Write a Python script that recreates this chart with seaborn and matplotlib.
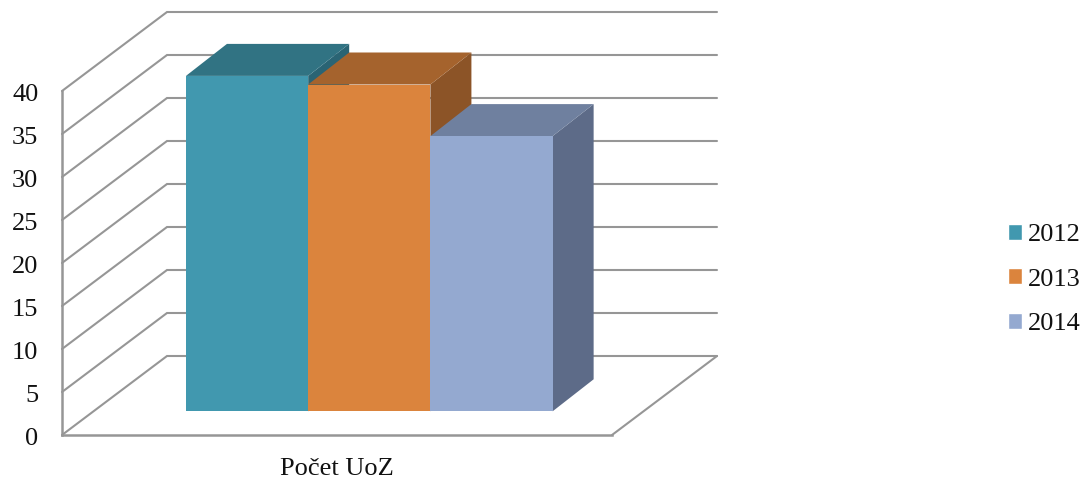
import matplotlib
matplotlib.use("Agg")
import matplotlib.pyplot as plt
from matplotlib.patches import Polygon
from matplotlib.transforms import ScaledTranslation
import pandas as pd
import seaborn as sns

categories = ["Počet UoZ"]
years = ["2012", "2013", "2014"]
values = [39, 38, 32]
y_ticks = [0, 5, 10, 15, 20, 25, 30, 35, 40]
front_colors = ["#4198AF", "#DB843D", "#94A9D0"]
top_colors = ["#317383", "#A5632D", "#6F809F"]
side_colors = ["#2A6474", "#8C5427", "#5D6B88"]

sns.set_style("white")
plt.rcParams["font.family"] = ["Liberation Serif", "DejaVu Serif"]

W, H = 1090, 482
GRID = "#969696"
fig = plt.figure(figsize=(W / 100, H / 100), dpi=100, facecolor="white")


def box(left, right, bottom, top):
    return [left / W, 1 - bottom / H, (right - left) / W, (bottom - top) / H]


# Front plane of the chart: holds the value axis and the category label
ax = fig.add_axes(box(62, 612, 435, 91))
ax.set_xlim(-0.5, 0.5)
ax.set_ylim(0, 40)
ax.set_yticks(y_ticks)
ax.set_xticks([0])
ax.set_xticklabels(categories)
ax.tick_params(axis="y", labelsize=19, length=0, pad=17, labelcolor="#111111")
ax.tick_params(axis="x", labelsize=19, length=0, pad=16.5, labelcolor="#111111")
nudge = ScaledTranslation(0, -1.2 / 100, fig.dpi_scale_trans)
for label in ax.get_yticklabels():
    label.set_transform(label.get_transform() + nudge)
for name in ("top", "right"):
    ax.spines[name].set_visible(False)
for name in ("left", "bottom"):
    ax.spines[name].set_color(GRID)
    ax.spines[name].set_linewidth(1.8)

# Walls and floor, expressed as depth offsets in data units
wall_dx = 105 / 550
wall_dy = 79 / 8.6
for v in y_ticks:
    ax.plot([-0.5, -0.5 + wall_dx, 0.5 + wall_dx], [v, v + wall_dy, v + wall_dy],
            color=GRID, lw=1.5, clip_on=False, zorder=1, solid_joinstyle="miter")
ax.plot([0.5, 0.5 + wall_dx], [0, wall_dy], color=GRID, lw=1.5, clip_on=False, zorder=1)

# Bars, on a transparent overlay set back from the front plane
bar_ax = fig.add_axes(box(94.3, 644.3, 411.3, 67.3))
bar_ax.patch.set_alpha(0)
data = pd.DataFrame({"category": categories * 3, "year": years, "value": values})
sns.barplot(data=data, x="category", y="value", hue="year", palette=front_colors,
            width=2 / 3, gap=0, saturation=1, errorbar=None, ax=bar_ax, legend=True)
bar_ax.set_xlim(-0.5, 0.5)
bar_ax.set_ylim(0, 40)
bar_ax.axis("off")

depth_x = 41 / 550
depth_y = 32 / 8.6
fronts = [p for p in bar_ax.patches if p.get_height() > 0]
for i, bar in enumerate(fronts):
    x0, x1 = bar.get_x(), bar.get_x() + bar.get_width()
    h = bar.get_height()
    bar.set_zorder(3 + 2 * i)
    bar.set_linewidth(0)
    bar_ax.add_patch(Polygon([(x1, 0), (x1 + depth_x, depth_y), (x1 + depth_x, h + depth_y), (x1, h)],
                             facecolor=side_colors[i], edgecolor="none", zorder=2 + 2 * i, clip_on=False))
    bar_ax.add_patch(Polygon([(x0, h), (x0 + depth_x, h + depth_y), (x1 + depth_x, h + depth_y), (x1, h)],
                             facecolor=top_colors[i], edgecolor="none", zorder=2 + 2 * i, clip_on=False))

handles = bar_ax.get_legend().legend_handles
bar_ax.get_legend().remove()
fig.legend(handles, years, loc="upper left", bbox_to_anchor=(1007.5 / W, 1 - 224 / H),
           frameon=False, fontsize=19, handlelength=0.55, handleheight=0.55,
           handletextpad=0.22, labelspacing=0.84, borderpad=0, borderaxespad=0,
           labelcolor="#111111")

fig.savefig("out.png", dpi=100)
